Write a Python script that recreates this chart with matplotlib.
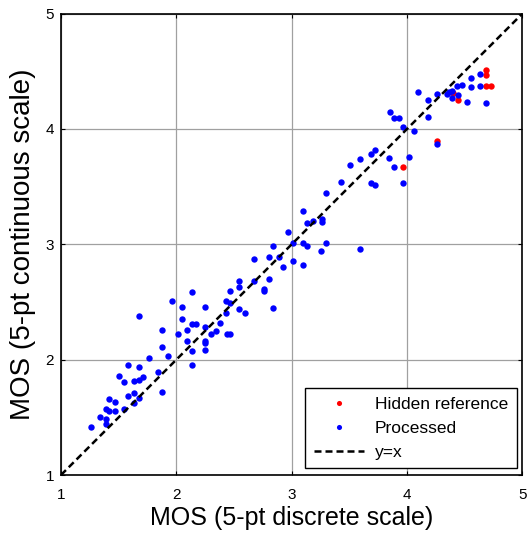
# scatter MOS: escala discreta vs escala contínua
# valores (aprox.)

import matplotlib
matplotlib.use("Agg")
import matplotlib.pyplot as plt

HIDDEN_X = [3.966, 4.261, 4.394, 4.438, 4.683, 4.683, 4.683, 4.729]
HIDDEN_Y = [3.666, 3.892, 4.308, 4.254, 4.514, 4.464, 4.371, 4.371]

PROCESSED_X = [
  1.256, 1.338, 1.386, 1.386, 1.386, 1.420, 1.468, 1.420, 1.468, 1.549,
  1.585, 1.633, 1.634, 1.679, 1.679, 1.501, 1.549, 1.585, 1.631, 1.679,
  1.715, 1.679, 1.763, 1.843, 1.878, 1.878, 1.927, 1.878, 1.959, 2.010,
  2.053, 2.053, 2.089, 2.089, 2.135, 2.135, 2.137, 2.170, 2.135, 2.252,
  2.252, 2.252, 2.252, 2.252, 2.300, 2.343, 2.382, 2.428, 2.428, 2.462,
  2.464, 2.437, 2.467, 2.545, 2.545, 2.545, 2.596, 2.674, 2.674, 2.759,
  2.759, 2.804, 2.804, 2.840, 2.840, 2.886, 2.924, 2.970, 3.015, 3.015,
  3.100, 3.129, 3.100, 3.100, 3.132, 3.181, 3.262, 3.262, 3.257, 3.296,
  3.296, 3.426, 3.591, 3.509, 3.591, 3.684, 3.721, 3.684, 3.721, 3.847,
  3.884, 3.966, 4.013, 4.059, 3.851, 3.886, 3.929, 3.966, 4.098, 4.179,
  4.179, 4.261, 4.342, 4.386, 4.386, 4.438, 4.432, 4.473, 4.520, 4.551,
  4.551, 4.633, 4.633, 4.683, 4.261, 4.362,
]
PROCESSED_Y = [
  1.413, 1.507, 1.484, 1.438, 1.575, 1.556, 1.555, 1.659, 1.637, 1.576,
  1.686, 1.708, 1.627, 1.669, 2.378, 1.860, 1.803, 1.953, 1.819, 1.825,
  1.847, 1.940, 2.011, 1.895, 1.718, 2.107, 2.036, 2.257, 2.505, 2.224,
  2.460, 2.352, 2.257, 2.164, 2.072, 2.586, 2.306, 2.306, 1.953, 2.460,
  2.287, 2.163, 2.141, 2.083, 2.226, 2.245, 2.315, 2.408, 2.506, 2.492,
  2.599, 2.224, 2.224, 2.681, 2.633, 2.436, 2.401, 2.869, 2.684, 2.616,
  2.597, 2.696, 2.892, 2.447, 2.984, 2.892, 2.800, 3.103, 2.857, 3.008,
  3.008, 2.984, 2.824, 3.290, 3.186, 3.201, 3.216, 3.192, 2.941, 3.008,
  3.444, 3.536, 2.963, 3.689, 3.736, 3.782, 3.816, 3.528, 3.513, 3.750,
  3.669, 3.528, 3.758, 3.978, 4.148, 4.091, 4.091, 4.018, 4.323, 4.254,
  4.102, 4.302, 4.302, 4.325, 4.264, 4.291, 4.371, 4.381, 4.231, 4.362,
  4.440, 4.371, 4.475, 4.221, 3.867, 4.319,
]

DIAGONAL = [1, 5]
TICKS = [1, 2, 3, 4, 5]


def gerar_grafico(caminho_saida: str) -> None:
  """Desenha o scatter com a diagonal y=x e guarda em caminho_saida."""
  plt.rcParams["font.family"] = ["Liberation Sans", "DejaVu Sans"]

  fig = plt.figure(figsize=(5.27, 5.35), dpi=100)
  ax = fig.add_axes([0.1157, 0.1121, 0.8757, 0.8626])

  ax.plot(HIDDEN_X, HIDDEN_Y, "o", color="#ff0000", ms=4.6, mec="none",
          label="Hidden reference")
  ax.plot(PROCESSED_X, PROCESSED_Y, "o", color="#0000ff", ms=4.6, mec="none",
          label="Processed")
  ax.plot(DIAGONAL, DIAGONAL, color="black", lw=1.8,
          linestyle=(0, (2.8, 1.6)), label="y=x")

  ax.set_xlim(1, 5)
  ax.set_ylim(1, 5)
  ax.set_xticks(TICKS)
  ax.set_yticks(TICKS)
  ax.grid(True, color="#a0a0a0", lw=0.9)
  ax.set_axisbelow(True)
  ax.tick_params(direction="in", top=True, right=True, length=3,
                 labelsize=11)
  ax.tick_params(axis="x", pad=9)
  ax.tick_params(axis="y", pad=5)
  for sp in ax.spines.values():
    sp.set_linewidth(1.2)

  ax.set_xlabel("MOS (5-pt discrete scale)", fontsize=18, labelpad=3)
  ax.set_ylabel("MOS (5-pt continuous scale)", fontsize=20, labelpad=7)

  leg = ax.legend(loc="lower right", bbox_to_anchor=(0.9874, 0.0145),
                  borderaxespad=0, fontsize=12.5, fancybox=False,
                  framealpha=1, edgecolor="black", markerscale=0.8,
                  handlelength=2.9, handletextpad=0.6, labelspacing=0.5,
                  borderpad=0.5)
  leg.get_frame().set_linewidth(1.0)

  fig.savefig(caminho_saida, dpi=100)
  plt.close(fig)


def main() -> None:
  gerar_grafico("out.png")


if __name__ == "__main__":
  main()
